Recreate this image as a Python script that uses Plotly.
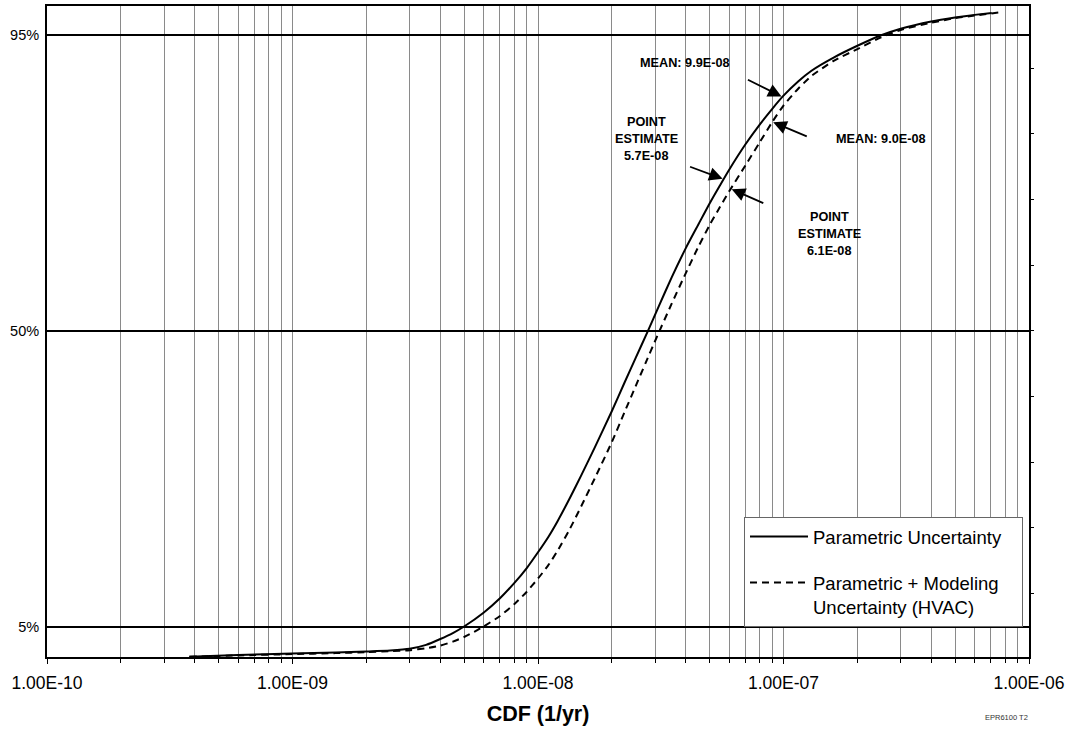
import numpy as np
import plotly.graph_objects as go

# ---------------- data ----------------
param_x = [3.8e-10, 6e-10, 1e-9, 1.5e-9, 2e-9, 2.5e-9, 3e-9, 3.5e-9, 4e-9, 4.5e-9, 5e-9,
           6e-9, 7e-9, 8e-9, 9e-9, 1e-8, 1.1e-8, 1.2e-8, 1.35e-8, 1.5e-8, 1.7e-8, 2e-8,
           2.25e-8, 2.5e-8, 2.79e-8, 3.1e-8, 3.5e-8, 4e-8, 4.5e-8, 5e-8, 5.5e-8, 6e-8,
           7e-8, 8e-8, 9e-8, 1e-7, 1.15e-7, 1.3e-7, 1.6e-7, 2e-7, 2.5e-7, 3e-7, 4e-7,
           5e-7, 6e-7, 7.05e-7]
param_p = [0.004, 0.0065, 0.009, 0.0105, 0.012, 0.0135, 0.016, 0.022, 0.031, 0.040, 0.050,
           0.071, 0.093, 0.116, 0.139, 0.163, 0.186, 0.210, 0.246, 0.280, 0.322, 0.378,
           0.421, 0.459, 0.498, 0.537, 0.581, 0.626, 0.662, 0.694, 0.721, 0.745,
           0.784, 0.814, 0.838, 0.858, 0.880, 0.896, 0.916, 0.934, 0.950, 0.960, 0.971,
           0.977, 0.981, 0.984]

model_x = [3.8e-10, 6e-10, 1e-9, 1.5e-9, 2e-9, 2.5e-9, 3e-9, 3.5e-9, 4e-9, 4.5e-9, 5e-9,
           5.5e-9, 6e-9, 7e-9, 8e-9, 9e-9, 1e-8, 1.1e-8, 1.2e-8, 1.35e-8, 1.5e-8, 1.7e-8,
           2e-8, 2.25e-8, 2.5e-8, 2.75e-8, 3.05e-8, 3.5e-8, 4e-8, 4.5e-8, 5e-8, 5.5e-8,
           6e-8, 7e-8, 8e-8, 9e-8, 1e-7, 1.15e-7, 1.3e-7, 1.6e-7, 2e-7, 2.5e-7, 3e-7,
           4e-7, 5e-7, 6e-7, 7.67e-7]
model_p = [0.004, 0.006, 0.008, 0.0095, 0.011, 0.0125, 0.014, 0.017, 0.021, 0.027, 0.034,
           0.042, 0.050, 0.066, 0.084, 0.103, 0.123, 0.143, 0.165, 0.199, 0.233, 0.275,
           0.331, 0.376, 0.416, 0.452, 0.491, 0.541, 0.588, 0.628, 0.661, 0.688,
           0.712, 0.752, 0.787, 0.818, 0.843, 0.869, 0.888, 0.911, 0.929, 0.947, 0.958,
           0.969, 0.976, 0.980, 0.985]

series_names = ["Parametric Uncertainty", "Parametric + Modeling<br>Uncertainty (HVAC)"]

x_tick_vals = [1e-10, 1e-9, 1e-8, 1e-7, 1e-6]
x_tick_text = ["1.00E-10", "1.00E-09", "1.00E-08", "1.00E-07", "1.00E-06"]
y_tick_vals = [0.05, 0.50, 0.95]
y_tick_text = ["5%", "50%", "95%"]
y_minor_vals = [0.1, 0.2, 0.3, 0.4, 0.5, 0.6, 0.7, 0.8, 0.9]

mean_param, pe_param = 9.9e-8, 5.7e-8
mean_model, pe_model = 9.0e-8, 6.1e-8

# ---------------- layout helpers ----------------
W, H = 1073, 730
L, R, T, B = 47, 1029, 6, 657
FONT = "Liberation Sans, Arial, sans-serif"
NB = "\u00a0"


def pxx(x):
    return (x - L) / (R - L)


def pxy(y):
    return (B - y) / (B - T)


minor_x = [m * 10.0 ** e for e in range(-10, -6) for m in range(2, 10)]

fig = go.Figure()
fig.add_trace(go.Scatter(x=param_x, y=param_p, mode="lines", name=series_names[0] + NB * 3,
                         line=dict(color="black", width=2, shape="spline", smoothing=0.6),
                         legendgroup="a"))
fig.add_trace(go.Scatter(x=model_x, y=model_p, mode="lines", name=series_names[1],
                         line=dict(color="black", width=2, dash="7px,5px", shape="spline",
                                   smoothing=0.6),
                         legendgroup="b"))
# carrier for right-hand tick axis
fig.add_trace(go.Scatter(x=[], y=[], yaxis="y2", showlegend=False, hoverinfo="skip"))

yr = [0.0036, 0.9945]

fig.update_layout(
    width=W, height=H,
    margin=dict(l=L, r=W - R, t=T, b=H - B, autoexpand=False),
    paper_bgcolor="white", plot_bgcolor="white",
    font=dict(family=FONT, color="black"),
    showlegend=True,
    legend=dict(x=pxx(1023), y=pxy(517), xanchor="right", yanchor="top",
                bgcolor="white", bordercolor="#666", borderwidth=1,
                font=dict(family=FONT, size=18.5, color="black"),
                traceorder="grouped", tracegroupgap=19, valign="top",
                itemwidth=58),
    xaxis=dict(type="log", range=[-10, -6], tickvals=x_tick_vals, ticktext=x_tick_text,
               tickfont=dict(size=17.5, family=FONT), ticks="outside", ticklen=5,
               tickcolor="black", showgrid=True, gridcolor="#8a8a8a", gridwidth=1,
               showline=True, linecolor="black", linewidth=2, mirror=True,
               zeroline=False, ticklabelstandoff=4,
               minor=dict(tickvals=minor_x, ticks="outside", ticklen=4, tickcolor="black",
                          showgrid=True, gridcolor="#8a8a8a", gridwidth=1),
               title=dict(text="<b>CDF (1/yr)</b>", font=dict(size=21.5, family=FONT),
                          standoff=14)),
    yaxis=dict(range=yr, tickvals=y_tick_vals, ticktext=y_tick_text,
               tickfont=dict(size=14.5, family=FONT), ticks="", showgrid=True,
               gridcolor="black", gridwidth=2, showline=True, linecolor="black",
               linewidth=2, mirror=True, zeroline=False, ticklabelstandoff=3),
    yaxis2=dict(range=yr, overlaying="y", side="right", tickvals=y_minor_vals,
                ticks="outside", ticklen=4, tickcolor="black", showticklabels=False,
                showgrid=False, showline=False, zeroline=False),
)

# white label backgrounds (cover the grid, below the curves)
boxes = [(630, 50, 742, 86), (605, 112, 690, 177), (826, 127, 938, 155), (778, 207, 880, 266)]
for x0, y0, x1, y1 in boxes:
    fig.add_shape(type="rect", xref="paper", yref="paper", x0=pxx(x0), x1=pxx(x1),
                  y0=pxy(y1), y1=pxy(y0), fillcolor="white", line=dict(width=0),
                  layer="between")

label_lines = [
    ("MEAN: 9.9E-08", 685, 63),
    ("POINT", 646, 122), ("ESTIMATE", 646, 139), ("5.7E-08", 646, 156),
    ("MEAN: 9.0E-08", 881, 139),
    ("POINT", 829, 217), ("ESTIMATE", 829, 234), ("6.1E-08", 829, 251),
]
for txt, x, y in label_lines:
    fig.add_annotation(text=f"<b>{txt}</b>", xref="paper", yref="paper", x=pxx(x), y=pxy(y),
                       showarrow=False, font=dict(size=12.7, family=FONT, color="black"),
                       xanchor="center", yanchor="middle")


def on_curve(v, xs, ps):
    return float(np.interp(np.log10(v), np.log10(xs), ps))


arrows = [
    (mean_param, param_x, param_p, -36, -18),
    (pe_param, param_x, param_p, -35, -13),
    (mean_model, model_x, model_p, 36, 15),
    (pe_model, model_x, model_p, 34, 15),
]
for v, xs, ps, ax, ay in arrows:
    fig.add_annotation(x=np.log10(v), y=on_curve(v, xs, ps), xref="x", yref="y", text="",
                       showarrow=True, ax=ax, ay=ay, arrowhead=2, arrowsize=1.5,
                       arrowwidth=1.8, arrowcolor="black", standoff=1)

fig.add_annotation(text="EPR6100 T2", xref="paper", yref="paper", x=pxx(1006), y=pxy(717),
                   xanchor="center", yanchor="middle", showarrow=False,
                   font=dict(size=7.5, family=FONT, color="#333"))

fig.write_html("out.html", config={"displayModeBar": False})

# remove the browser's default page margin so the figure sits at (0, 0)
with open("out.html", "r", encoding="utf-8") as f:
    html = f.read()
html = html.replace("<head>", "<head><style>html,body{margin:0;padding:0;}</style>", 1)
with open("out.html", "w", encoding="utf-8") as f:
    f.write(html)
